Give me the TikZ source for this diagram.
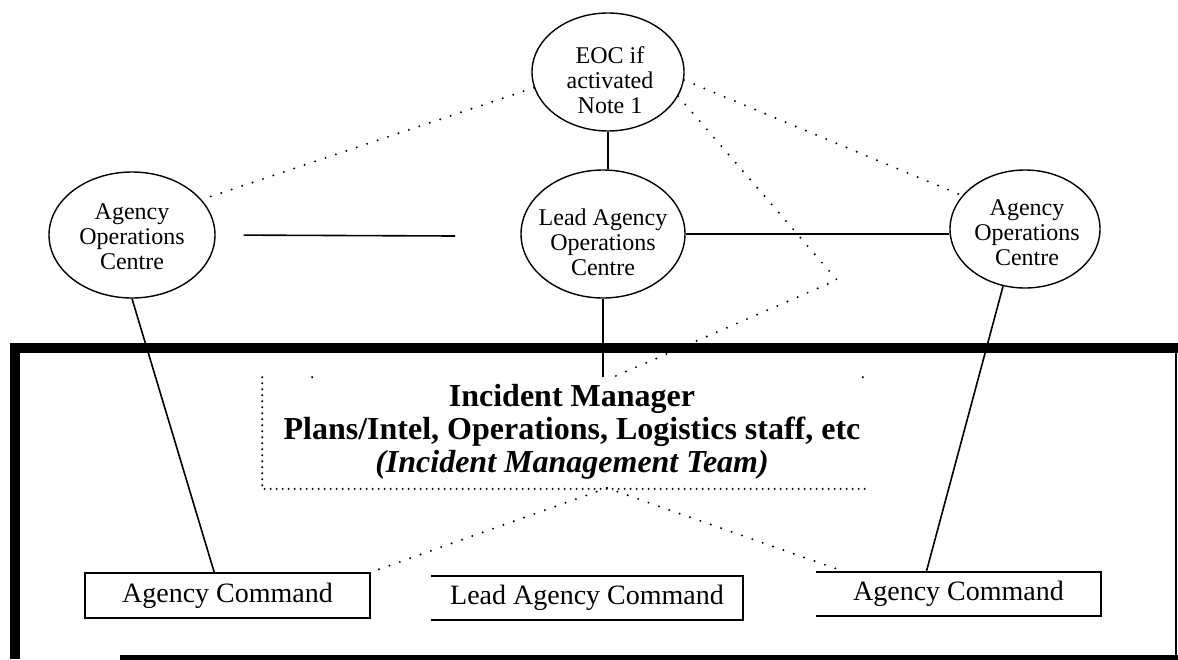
\documentclass[tikz,border=0pt]{standalone}
\usepackage{fontspec}
\setmainfont{Liberation Serif}
\usetikzlibrary{shapes.geometric}
\begin{document}
\begin{tikzpicture}[x=1pt,y=-1pt,
  line width=1.6pt,
  oval/.style={ellipse, draw, line width=1.4pt, inner sep=0pt},
  otext/.style={align=center, font=\fontsize{24}{25}\selectfont, inner sep=0pt},
  cmdbox/.style={font=\fontsize{28}{30}\selectfont, inner sep=0pt},
  dotline/.style={line width=2.2pt, dash pattern=on 0pt off 11pt, line cap=round},
  imtdot/.style={line width=2.2pt, dash pattern=on 0pt off 6pt, line cap=round},
  solidline/.style={line width=1.6pt}]
\useasboundingbox (0,0) rectangle (1178,659);

% outer frame
\draw[line width=10pt] (15,659) -- (15,347.5) -- (1178,347.5);
\draw[line width=2pt] (1176,347.5) -- (1176,659);
\draw[line width=5pt] (120,657) -- (1178,657);

% ellipses
\node[oval, minimum width=152pt, minimum height=118pt] (eoc) at (608,72) {};
\node[otext] (eoct) at (610,80) {EOC if\\activated\\Note 1};
\node[oval, minimum width=166pt, minimum height=126pt] (aoc1) at (132,235) {};
\node[otext] (aoc1t) at (132,237) {Agency\\Operations\\Centre};
\node[oval, minimum width=164pt, minimum height=128pt] (lead) at (603,234) {};
\node[otext] (leadt) at (603,242) {Lead Agency\\Operations\\Centre};
\node[oval, minimum width=150pt, minimum height=118pt] (aoc2) at (1025,229) {};
\node[otext] (aoc2t) at (1027,233) {Agency\\Operations\\Centre};

% incident management team
\node[inner sep=0pt, minimum width=602pt, minimum height=110pt] (imt) at (564,433) {};
\node[align=center, inner sep=0pt, font=\bfseries\fontsize{32}{33}\selectfont] (imtt) at (572,432)
  {Incident Manager\\Plans/Intel, Operations, Logistics staff, etc\\\textit{(Incident Management Team)}};
\draw[imtdot] (imt.north west) -- (imt.south west) -- (imt.south east);
\fill ([xshift=50pt]imt.north west) circle (1.2pt);
\fill ([xshift=-3pt]imt.north east) circle (1.2pt);

% command boxes
\node[cmdbox, draw, line width=1.6pt, minimum width=285pt, minimum height=45pt] (ac1) at (227.5,595.5) {Agency Command};
\node[cmdbox, minimum width=310pt, minimum height=42pt] (lac) at (587,598) {Lead Agency Command};
\draw[solidline] (lac.north west) -- (lac.north east) -- (lac.south east) -- (lac.south west);
\node[cmdbox, minimum width=283pt, minimum height=45pt] (ac2) at (958.5,594) {Agency Command};
\draw[solidline] ([yshift=-1.5pt]ac2.north west) -- ([yshift=-1.5pt]ac2.north east) -- ([yshift=1.5pt]ac2.south east) -- ([yshift=1.5pt]ac2.south west);

% solid connectors
\draw[solidline] (eoc.south) -- (eoc.south |- lead.north);
\draw[solidline] (lead.south) -- (lead.south |- imt.north);
\draw[solidline] (lead.east) -- (lead.east -| aoc2.west);
\coordinate (aocend) at (455,236);
\draw[solidline, shorten <=28pt] (aoc1.east) -- (aocend);
\draw[solidline] (aoc1.south) -- ([xshift=130pt]ac1.north west);
\draw[solidline] (aoc2.-111) -- ([xshift=110pt,yshift=-1.5pt]ac2.north west);

% dotted connectors
\draw[dotline] (eoc.192) -- (aoc1.27);
\draw[dotline] (eoc.-6) -- (aoc2.152);
\coordinate (bend) at (837,280);
\draw[dotline] (eoc.-19) -- (bend) -- ([xshift=49pt]imt.north);
\coordinate (apex) at (607,488);
\draw[dotline] (apex) -- (ac1.north east);
\draw[dotline] (apex) -- ([xshift=30pt,yshift=-1.5pt]ac2.north west);
\end{tikzpicture}
\end{document}
